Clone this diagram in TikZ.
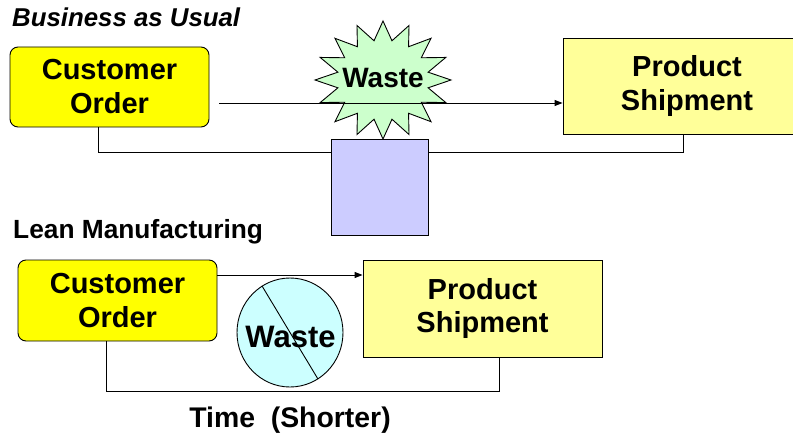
\documentclass[tikz,border=0pt]{standalone}
\usepackage{fontspec}
\setmainfont{Liberation Sans}
\usetikzlibrary{arrows.meta,shapes.geometric}

\definecolor{ordery}{HTML}{FFFF00}
\definecolor{shipy}{HTML}{FFFF99}
\definecolor{burstg}{HTML}{CCFFCC}
\definecolor{stockp}{HTML}{CCCCFF}
\definecolor{noc}{HTML}{CCFFFF}

\tikzset{
  line/.style={draw=black, line width=0.9pt},
  flow/.style={line, -{Triangle[length=8pt,width=6pt]}},
  boxtext/.style={font=\fontsize{29}{34}\selectfont\bfseries, align=center, text=black},
  orderbox/.style={line, fill=ordery, rounded corners=8pt, inner sep=0pt, boxtext},
  shipbox/.style={line, fill=shipy, inner sep=0pt, boxtext},
  heading/.style={font=\fontsize{26.3}{30}\selectfont\bfseries, inner sep=0pt},
}

\begin{document}
\begin{tikzpicture}[x=1pt, y=-1pt]
\clip (0,0) rectangle (793,436);
\fill[white] (0,0) rectangle (793,436);

% ---------- Business as usual ----------
\node[heading, font=\fontsize{25.8}{30}\selectfont\bfseries\itshape, anchor=base west] (hd1) at (12,27) {Business as Usual};

\node[orderbox, minimum width=199pt, minimum height=80pt] (ord1) at (109.5,87) {Customer\\Order};
\node[shipbox, minimum width=248pt, minimum height=96pt] (shp1) at (687,86) {Product\\Shipment};

% waiting time line (runs behind the inventory block)
\coordinate (t1) at (98,152);
\coordinate (t2) at (683,152);
\draw[line] (t1 |- ord1.south) -- (t1) -- (t2) -- (t2 |- shp1.south);

% waste burst
\draw[line, fill=burstg, shift={(383,80)}]
  (90:68 and 59)
  \foreach \k in {0,...,15} { -- ({90+\k*22.5}:68 and 59) -- ({101.25+\k*22.5}:46 and 40) } -- cycle;
\node[font=\fontsize{28}{32}\selectfont\bfseries, inner sep=0pt] (w1) at (383,78) {Waste};

% flow from order to shipment
\coordinate (a1) at (219,103);
\draw[flow] (a1) -- (a1 -| shp1.west);

% inventory block
\node[line, fill=stockp, minimum width=97pt, minimum height=96pt, inner sep=0pt] (inv) at (379.5,187) {};

% ---------- Lean manufacturing ----------
\node[heading, anchor=base west] (hd2) at (13,238) {Lean Manufacturing};

\node[orderbox, minimum width=199pt, minimum height=81pt] (ord2) at (117.5,300.5) {Customer\\Order};
\node[shipbox, minimum width=239pt, minimum height=97pt] (shp2) at (482.5,308.5) {Product\\Shipment};

\coordinate (a2) at (0,275);
\draw[flow] (ord2.east |- a2) -- (shp2.west |- a2);

\coordinate (t3) at (106,391);
\coordinate (t4) at (499,391);
\draw[line] (t3 |- ord2.south) -- (t3) -- (t4) -- (t4 |- shp2.south);

% waste removed
\node[line, ellipse, fill=noc, minimum width=106pt, minimum height=109pt, inner sep=0pt] (nw) at (290,332.5) {};
\node[font=\fontsize{31}{36}\selectfont\bfseries, inner sep=0pt] (w2) at (290.5,337) {Waste};
\draw[line] (nw.121) -- (nw.-59);

\node[font=\fontsize{28.4}{32}\selectfont\bfseries, anchor=base, inner sep=0pt] (tm) at (290,427) {Time\ \ (Shorter)};
\end{tikzpicture}
\end{document}
